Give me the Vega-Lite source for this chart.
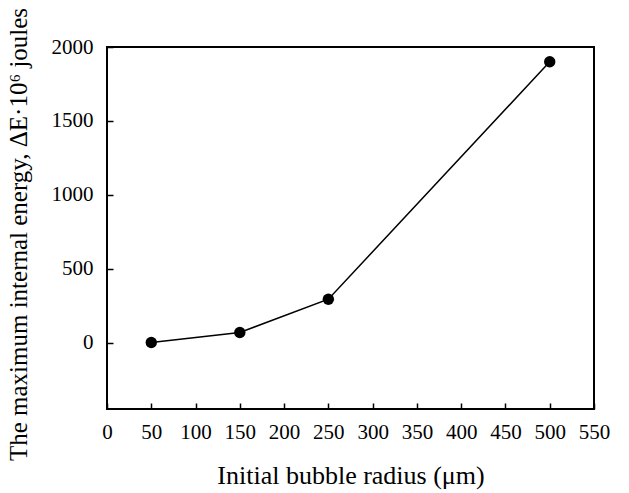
{
  "$schema": "https://vega.github.io/schema/vega-lite/v6.json",
  "width": 487,
  "height": 362,
  "autosize": "none",
  "padding": {"left": 107, "top": 47, "right": 35, "bottom": 84},
  "background": "white",
  "data": {"values": [
    {"r": 50, "E": 0},
    {"r": 150, "E": 68},
    {"r": 250, "E": 293},
    {"r": 500, "E": 1900}
  ]},
  "config": {
    "font": "Liberation Serif",
    "view": {"stroke": "black", "strokeWidth": 2},
    "axis": {
      "grid": false,
      "domain": false,
      "tickColor": "black",
      "tickSize": -6,
      "tickWidth": 1.5,
      "labelColor": "black",
      "labelFont": "Liberation Serif",
      "labelFontSize": 21,
      "titleFont": "Liberation Serif",
      "titleFontSize": 26,
      "titleFontWeight": "normal",
      "titleColor": "black"
    }
  },
  "encoding": {
    "x": {"field": "r", "type": "quantitative",
      "scale": {"domain": [0, 550], "nice": false},
      "axis": {"values": [0,50,100,150,200,250,300,350,400,450,500,550], "format": "d", "labelPadding": 18, "title": "Initial bubble radius (μm)", "titlePadding": 20, "labelFlush": false, "labelOverlap": false}},
    "y": {"field": "E", "type": "quantitative",
      "scale": {"domain": [-450, 2000], "nice": false, "zero": false},
      "axis": {"values": [0, 500, 1000, 1500, 2000], "format": "d", "labelExpr": "datum.label + '\u00a0'", "labelPadding": 20, "title": "The maximum internal energy, ΔE·10⁶ joules", "titleFontSize": 25, "titleX": -89, "titleY": 187, "titleBaseline": "middle", "titleAlign": "center", "titleAngle": -90, "labelFlush": false, "labelOverlap": false}}
  },
  "layer": [
    {
      "mark": {"type": "line", "color": "black", "strokeWidth": 1.5}
    },
    {
      "mark": {"type": "point", "filled": true, "color": "black", "size": 130, "opacity": 1}
    }
  ]
}
